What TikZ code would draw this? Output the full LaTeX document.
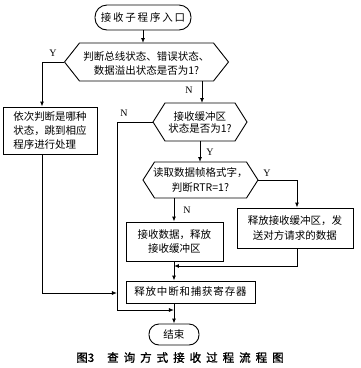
\documentclass[tikz,border=0pt]{standalone}
\usepackage{fontspec}
\setmainfont{Noto Sans CJK SC}
\newfontfamily\latinserif{Liberation Serif}
\newfontfamily\capfont[FakeBold=1.2]{Noto Sans CJK SC}
\usetikzlibrary{arrows.meta,calc}
\newcommand\ks{\hspace{1.8pt}}
\newcommand\cs{\hspace{5pt}}
\newcommand\rs{\hspace{0.8pt}}
\tikzset{
  x=1pt, y=-1pt,
  line/.style={line width=0.9pt},
  arr/.style={line, -{Latex[length=5pt,width=4pt]}},
  txt/.style={font=\fontsize{10.5}{13}\selectfont, inner sep=0pt, align=center},
  box/.style={draw, line width=0.9pt, inner sep=0pt, font=\fontsize{10.5}{13}\selectfont},
  term/.style={draw, line width=0.9pt, inner sep=0pt, rounded corners=9pt, font=\fontsize{10.5}{13}\selectfont},
  lab/.style={font=\latinserif\fontsize{10}{12}\selectfont, inner sep=0pt},
}
% name, cx, cy, flat half-width, tip half-width, half-height
\newcommand\hexnode[6]{%
  \draw[line] ({#2-#4},{#3-#6}) -- ({#2+#4},{#3-#6}) -- ({#2+#5},#3) -- ({#2+#4},{#3+#6}) -- ({#2-#4},{#3+#6}) -- ({#2-#5},#3) -- cycle;
  \coordinate (#1w) at ({#2-#5},#3);
  \coordinate (#1e) at ({#2+#5},#3);
}
\begin{document}
\begin{tikzpicture}
\useasboundingbox (0,0) rectangle (360,368);

% start
\node[term, minimum width=96pt, minimum height=25pt, rounded corners=12pt] (start) at (143,17.5) {接\ks{}收\ks{}子\ks{}程\ks{}序\ks{}入\ks{}口};

% decision 1
\hexnode{d1}{146.5}{62}{67}{82}{19}
\node[txt, font=\fontsize{10.5}{14}\selectfont] (d1) at (146.5,63) {判断总线状态、错误状态、\\数据溢出状态是否为1?};

% left box
\node[box, minimum width=94pt, minimum height=47pt, align=left, font=\fontsize{10.5}{14}\selectfont] (lbox) at (50,130.5) {依次判断是哪种\\状态，跳到相应\\程序进行处理};

% decision 2
\hexnode{d2}{200}{122}{35}{47}{19}
\node[txt, font=\fontsize{10.5}{12}\selectfont] (d2) at (200,122.5) {接收缓冲区\\状态是否为1?};

% decision 3
\hexnode{d3}{200.5}{180}{46}{57.5}{18}
\node[txt, font=\fontsize{10.5}{15}\selectfont] (d3) at (200.5,180.5) {读取数据帧格式字，\\判断RTR=1?};

% middle box
\node[box, minimum width=97pt, minimum height=39pt, align=center, font=\fontsize{10.5}{14}\selectfont] (mbox) at (174.5,241.5) {接收数据，释放\\接收缓冲区};

% right box
\node[box, minimum width=116pt, minimum height=40pt, align=center, font=\fontsize{10.5}{15}\selectfont] (rbox) at (295,228) {释放接收缓冲区，发\\送对方请求的数据};

% release box
\node[box, minimum width=129pt, minimum height=22pt] (rel) at (190.5,292) {释\rs{}放\rs{}中\rs{}断\rs{}和\rs{}捕\rs{}获\rs{}寄\rs{}存\rs{}器};

% end
\node[term, minimum width=50pt, minimum height=21pt, rounded corners=10pt] (end) at (174,334.5) {结束};

% caption
\node[font=\capfont\fontsize{11.5}{13}\selectfont, inner sep=0pt] (cap) at (180,357.5) {图3\hspace{13pt}查\cs{}询\cs{}方\cs{}式\cs{}接\cs{}收\cs{}过\cs{}程\cs{}流\cs{}程\cs{}图};

% helper coordinates
\coordinate (ly) at (42,62);
\coordinate (lbot) at (42,293);
\coordinate (n2a) at (117,122);
\coordinate (n2b) at (117,310);
\coordinate (n2c) at (174,310);
\coordinate (y3a) at (297,180);
\coordinate (r1) at (297,266);
\coordinate (r2) at (174,266);
\coordinate (d1top) at (146.5,43);
\coordinate (d1n) at (202,81);
\coordinate (d2top) at (202,103);
\coordinate (d2s) at (200,141);
\coordinate (d3top) at (200,162);
\coordinate (d3s) at (174,198);

% connectors
\draw[arr] (start.south) -- (start.south |- d1top);
\draw[arr] (d1w) -- (ly) -- (ly |- lbox.north);
\draw[arr] (lbox.south -| ly) -- (lbot) -- (lbot -| n2a);
\draw[arr] (d1n) -- (d2top);
\draw[arr] (d2w) -- (n2a) -- (n2b) -- (n2c);
\draw[arr] (d2s) -- (d3top);
\draw[arr] (d3e) -- (y3a) -- (y3a |- rbox.north);
\draw[arr] (d3s) -- (d3s |- mbox.north);
\draw[arr] (mbox.south -| end.north) -- (rel.north -| end.north);
\draw[arr] (rbox.south -| r1) -- (r1) -- (r2);
\draw[arr] (rel.south -| end.north) -- (end.north);

% labels
\node[lab] (ylab1) at (53,53) {Y};
\node[lab] (nlab1) at (189,90) {N};
\node[lab] (nlab2) at (124,113) {N};
\node[lab] (ylab2) at (210,152) {Y};
\node[lab] (ylab3) at (267,173) {Y};
\node[lab] (nlab3) at (187,210) {N};
\end{tikzpicture}
\end{document}
